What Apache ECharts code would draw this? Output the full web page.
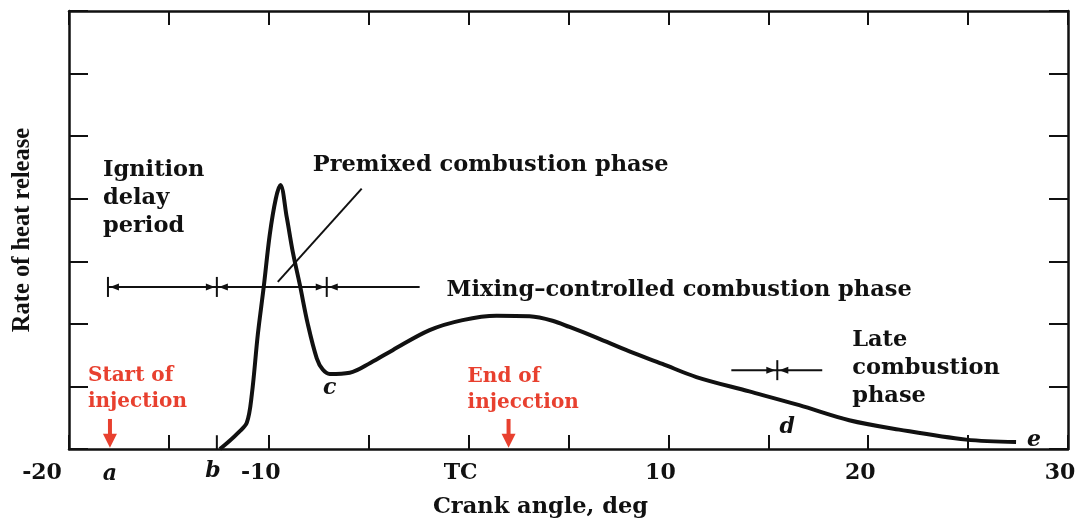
<!DOCTYPE html>
<html>
<head>
<meta charset="utf-8">
<script src="https://cdn.jsdelivr.net/npm/echarts@6/dist/echarts.min.js"></script>
<style>
  html, body { margin: 0; padding: 0; background: #fff; }
  #chart { width: 1082px; height: 523px; }
</style>
</head>
<body>
<div id="chart"></div>
<script>
// heat release curve (crank angle deg, arbitrary units)
const angle = [-12.45, -12.0, -11.5, -11.1, -10.85, -10.55, -10.25, -9.95, -9.65, -9.42, -9.1, -8.8, -8.45, -8.05, -7.6, -7.3, -6.95,
  -5.95, -4.9, -3.8, -1.95, -0.3, 1.4, 3.05, 4.2, 5.05, 6.4, 8.05, 9.7, 11.4, 14.05, 16.55, 19.05, 21.55, 24.9, 27.4];
const heatRate = [0, 0.12, 0.27, 0.42, 0.87, 1.83, 2.6, 3.43, 4.0, 4.22, 3.7, 3.15, 2.63, 2.0, 1.45, 1.27, 1.2,
  1.22, 1.38, 1.58, 1.9, 2.06, 2.13, 2.12, 2.05, 1.95, 1.78, 1.56, 1.36, 1.15, 0.92, 0.70, 0.46, 0.31, 0.15, 0.11];

// axis ticks
const tickValues = [-20, -10, 0, 10, 20, 30];
const tickLabels = ['-20', '-10', 'TC', '10', '20', '30'];

// phase bars
const phaseLevel = 2.59;
const phaseEnds = [-18.05, -2.45];
const phaseMarks = [-18.05, -12.6, -7.1];
const lateLevel = 1.26;
const lateEnds = [13.15, 17.7];
const lateMarks = [15.45];
const premixLeader = [-9.55, 2.67, -5.35, 4.16];
const bMark = -12.6;

// injection arrows
const injectionAngles = [-17.95, 2.0];

// text notes: [angle, level, text]
const blackNotes = [
  [-18.3, 4.01, 'Ignition\ndelay\nperiod'],
  [-7.8, 4.54, 'Premixed combustion phase'],
  [-1.1, 2.54, 'Mixing\u2013controlled combustion phase'],
  [19.2, 1.29, 'Late\ncombustion\nphase']
];
const redNotes = [
  [-19.05, 0.96, 'Start of\ninjection'],
  [-0.05, 0.94, 'End of\ninjecction']
];
const letterNotes = [
  [-17.95, -0.4, 'a'],
  [-12.8, -0.35, 'b'],
  [-6.95, 0.97, 'c'],
  [15.95, 0.34, 'd'],
  [28.3, 0.14, 'e']
];

const INK = '#111';
const RED = '#e8402f';
const SERIF = 'DejaVu Serif';

const chart = echarts.init(document.getElementById('chart'));

const segments = [];
segments.push([phaseEnds[0], phaseLevel, phaseEnds[1], phaseLevel]);
phaseMarks.forEach(m => segments.push([m, phaseLevel - 0.16, m, phaseLevel + 0.16]));
segments.push([lateEnds[0], lateLevel, lateEnds[1], lateLevel]);
lateMarks.forEach(m => segments.push([m, lateLevel - 0.16, m, lateLevel + 0.16]));
segments.push(premixLeader);
segments.push([bMark, 0, bMark, 0.22]);

// arrow heads: [x, y, dir] dir 0 = left, 1 = right
const heads = [];
phaseMarks.forEach((m, i) => {
    heads.push([m + 0.1, phaseLevel, 0]);
    if (i > 0) heads.push([m - 0.1, phaseLevel, 1]);
});
lateMarks.forEach(m => {
    heads.push([m + 0.1, lateLevel, 0]);
    heads.push([m - 0.1, lateLevel, 1]);
});

function textSeries(list, label) {
    return {
        type: 'scatter',
        symbolSize: 0,
        clip: false,
        silent: true,
        z: 5,
        itemStyle: { opacity: 1 },
        data: list.map(n => ({ value: [n[0], n[1]], name: n[2] })),
        label: Object.assign({ show: true, position: 'inside', formatter: p => p.name }, label)
    };
}

const tickFont = { fontFamily: SERIF, fontWeight: 'bold', fontSize: 22, color: INK };

const option = {
    animation: false,
    grid: { left: 69, right: 14, top: 11, bottom: 74, outerBoundsMode: 'none', containLabel: false },
    xAxis: [
        {
            type: 'value', min: -20, max: 30, interval: 5, position: 'bottom',
            name: 'Crank angle, deg', nameLocation: 'middle', nameGap: 47,
            nameTextStyle: { fontFamily: SERIF, fontWeight: 'bold', fontSize: 22.5, color: INK, padding: [0, 56, 0, 0] },
            axisLine: { onZero: false, lineStyle: { color: INK, width: 2.5 } },
            axisTick: { inside: true, length: 14, lineStyle: { color: INK, width: 2 } },
            splitLine: { show: false },
            axisLabel: {
                margin: 13,
                showMinLabel: true, showMaxLabel: true,
                formatter: v => {
                    const i = tickValues.indexOf(v);
                    if (i < 0) return '';
                    return (i === 0 ? '{far|' : '{n|') + tickLabels[i] + '}';
                },
                rich: {
                    far: Object.assign({ padding: [0, 54, 0, 0] }, tickFont),
                    n: Object.assign({ padding: [0, 16, 0, 0] }, tickFont)
                }
            }
        },
        {
            type: 'value', min: -20, max: 30, interval: 5, position: 'top',
            axisLine: { onZero: false, lineStyle: { color: INK, width: 2.5 } },
            axisTick: { inside: true, length: 14, lineStyle: { color: INK, width: 2 } },
            axisLabel: { show: false },
            splitLine: { show: false }
        }
    ],
    yAxis: [
        {
            type: 'value', min: 0, max: 7, interval: 1, position: 'left',
            name: 'Rate of heat release', nameLocation: 'middle', nameGap: 34, nameRotate: 90,
            nameTextStyle: { fontFamily: 'Liberation Serif', fontWeight: 'bold', fontSize: 24.5, color: INK },
            axisLine: { onZero: false, lineStyle: { color: INK, width: 2.5 } },
            axisTick: { inside: true, length: 19, lineStyle: { color: INK, width: 2 } },
            axisLabel: { show: false },
            splitLine: { show: false }
        },
        {
            type: 'value', min: 0, max: 7, interval: 1, position: 'right',
            axisLine: { onZero: false, lineStyle: { color: INK, width: 2.5 } },
            axisTick: { inside: true, length: 19, lineStyle: { color: INK, width: 2 } },
            axisLabel: { show: false },
            splitLine: { show: false }
        }
    ],
    series: [
        {
            name: 'Rate of heat release',
            type: 'line',
            smooth: 0.35,
            showSymbol: false,
            lineStyle: { color: INK, width: 4 },
            data: angle.map((a, i) => [a, heatRate[i]]),
            z: 4
        },
        {
            type: 'custom',
            silent: true,
            encode: { x: [0, 2], y: [1, 3] },
            data: segments,
            renderItem: (params, api) => {
                const p1 = api.coord([api.value(0), api.value(1)]);
                const p2 = api.coord([api.value(2), api.value(3)]);
                return {
                    type: 'line',
                    shape: { x1: p1[0], y1: p1[1], x2: p2[0], y2: p2[1] },
                    style: { stroke: INK, lineWidth: 2 }
                };
            },
            z: 3
        },
        {
            type: 'custom',
            silent: true,
            encode: { x: 0, y: 1 },
            data: heads,
            renderItem: (params, api) => {
                const c = api.coord([api.value(0), api.value(1)]);
                const d = api.value(2) === 0 ? 1 : -1;
                return {
                    type: 'polygon',
                    shape: { points: [[c[0], c[1]], [c[0] + d * 9, c[1] - 3.5], [c[0] + d * 9, c[1] + 3.5]] },
                    style: { fill: INK }
                };
            },
            z: 3
        },
        {
            type: 'custom',
            silent: true,
            encode: { x: 0 },
            data: injectionAngles.map(a => [a]),
            renderItem: (params, api) => {
                const top = api.coord([api.value(0), 0.48]);
                const tip = api.coord([api.value(0), 0.02]);
                return {
                    type: 'group',
                    children: [
                        { type: 'line', shape: { x1: top[0], y1: top[1], x2: tip[0], y2: tip[1] - 12 }, style: { stroke: RED, lineWidth: 4 } },
                        { type: 'polygon', shape: { points: [[tip[0], tip[1]], [tip[0] - 7, tip[1] - 14], [tip[0] + 7, tip[1] - 14]] }, style: { fill: RED } }
                    ]
                };
            },
            z: 3
        },
        textSeries(blackNotes, { align: 'left', fontFamily: SERIF, fontWeight: 'bold', fontSize: 22.5, lineHeight: 28, color: INK }),
        textSeries(redNotes, { align: 'left', fontFamily: SERIF, fontWeight: 'bold', fontSize: 20, lineHeight: 26, color: RED }),
        textSeries(letterNotes, { align: 'center', fontFamily: SERIF, fontWeight: 'bold', fontStyle: 'italic', fontSize: 22, color: INK })
    ]
};

chart.setOption(option);
window.addEventListener('resize', () => chart.resize());
</script>
</body>
</html>
